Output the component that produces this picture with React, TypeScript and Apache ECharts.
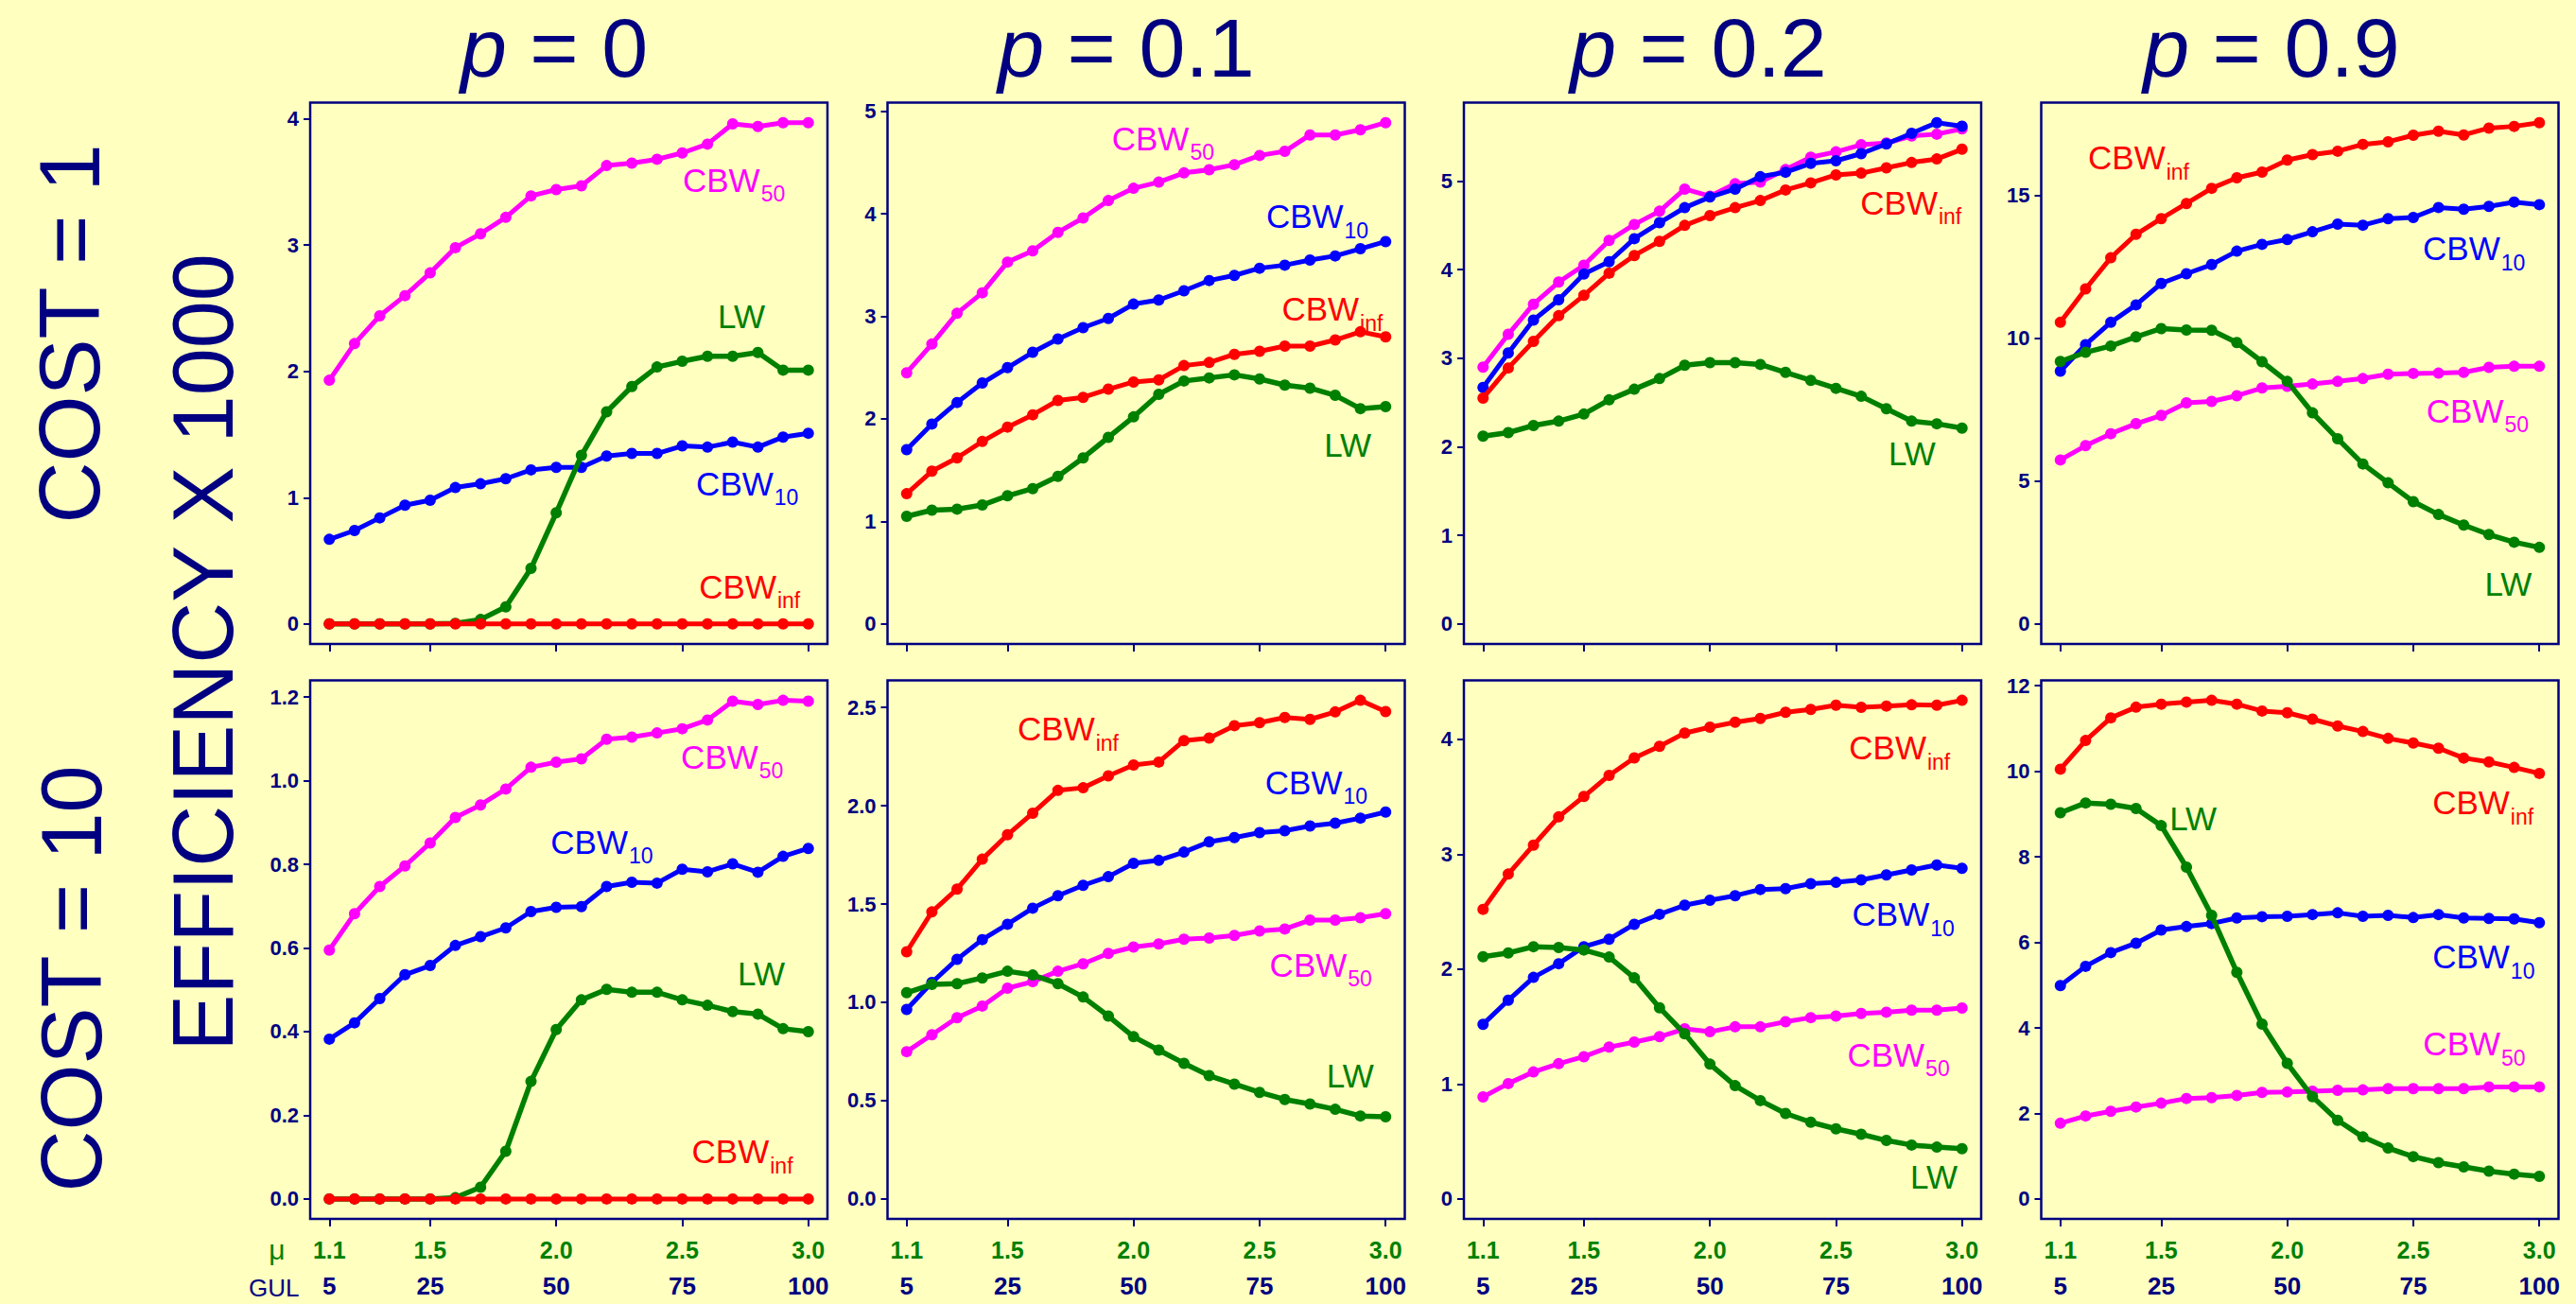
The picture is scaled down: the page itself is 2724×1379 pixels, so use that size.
import React, { useEffect, useRef } from "react";
import * as echarts from "echarts";

// ---- x axis: mean group size mu and the matching GUL ----
const MU = [1.1, 1.2, 1.3, 1.4, 1.5, 1.6, 1.7, 1.8, 1.9, 2.0, 2.1, 2.2, 2.3, 2.4, 2.5, 2.6, 2.7, 2.8, 2.9, 3.0];
const MU_TICKS = [1.1, 1.5, 2.0, 2.5, 3.0];
const MU_TICK_LABELS = ["1.1", "1.5", "2.0", "2.5", "3.0"];
const GUL_TICK_LABELS = ["5", "25", "50", "75", "100"];

const P_LABELS = ["0", "0.1", "0.2", "0.9"];
const COST_LABELS = ["COST = 1", "COST = 10"];
const Y_TITLE = "EFFICIENCY X 1000";

// ---- COST = 1 ----
// p = 0
const cbw50_A = [1.93, 2.22, 2.44, 2.6, 2.78, 2.98, 3.09, 3.22, 3.39, 3.44, 3.47, 3.63, 3.65, 3.68, 3.73, 3.8, 3.96, 3.94, 3.97, 3.97];
const cbw10_A = [0.67, 0.74, 0.84, 0.94, 0.98, 1.08, 1.11, 1.15, 1.22, 1.24, 1.24, 1.33, 1.35, 1.35, 1.41, 1.4, 1.44, 1.4, 1.48, 1.51];
const lw_A = [0, 0, 0, 0, 0, 0.005, 0.035, 0.135, 0.44, 0.88, 1.335, 1.68, 1.88, 2.035, 2.08, 2.12, 2.12, 2.15, 2.01, 2.01];
const cbwInf_A = [0, 0, 0, 0, 0, 0, 0, 0, 0, 0, 0, 0, 0, 0, 0, 0, 0, 0, 0, 0];
// p = 0.1
const cbw50_B = [2.45, 2.73, 3.03, 3.23, 3.53, 3.64, 3.82, 3.96, 4.13, 4.25, 4.31, 4.4, 4.43, 4.48, 4.57, 4.61, 4.77, 4.77, 4.82, 4.89];
const cbw10_B = [1.7, 1.95, 2.16, 2.35, 2.5, 2.65, 2.78, 2.89, 2.98, 3.12, 3.16, 3.25, 3.35, 3.4, 3.47, 3.5, 3.55, 3.59, 3.66, 3.73];
const lw_B = [1.05, 1.11, 1.12, 1.16, 1.25, 1.32, 1.44, 1.62, 1.82, 2.02, 2.24, 2.37, 2.4, 2.43, 2.39, 2.33, 2.3, 2.23, 2.1, 2.12];
const cbwInf_B = [1.27, 1.49, 1.62, 1.78, 1.92, 2.04, 2.18, 2.21, 2.29, 2.36, 2.38, 2.52, 2.55, 2.63, 2.66, 2.71, 2.71, 2.77, 2.85, 2.8];
// p = 0.2
const cbw50_C = [2.9, 3.27, 3.61, 3.86, 4.05, 4.33, 4.51, 4.66, 4.91, 4.83, 4.97, 4.99, 5.13, 5.27, 5.33, 5.41, 5.43, 5.51, 5.53, 5.59];
const cbw10_C = [2.67, 3.06, 3.43, 3.66, 3.95, 4.09, 4.35, 4.53, 4.7, 4.82, 4.91, 5.05, 5.1, 5.2, 5.23, 5.31, 5.42, 5.54, 5.66, 5.62];
const lw_C = [2.12, 2.16, 2.24, 2.29, 2.37, 2.53, 2.65, 2.77, 2.92, 2.95, 2.95, 2.93, 2.84, 2.75, 2.66, 2.57, 2.43, 2.29, 2.26, 2.21];
const cbwInf_C = [2.55, 2.89, 3.19, 3.48, 3.71, 3.96, 4.16, 4.32, 4.5, 4.61, 4.7, 4.78, 4.9, 4.98, 5.07, 5.09, 5.15, 5.21, 5.25, 5.36];
// p = 0.9
const cbw50_D = [5.74, 6.24, 6.66, 7.01, 7.3, 7.74, 7.79, 7.99, 8.26, 8.32, 8.4, 8.49, 8.59, 8.74, 8.77, 8.78, 8.81, 8.98, 9.02, 9.02];
const cbw10_D = [8.85, 9.78, 10.56, 11.17, 11.92, 12.26, 12.58, 13.05, 13.29, 13.46, 13.73, 14.0, 13.96, 14.19, 14.23, 14.58, 14.52, 14.62, 14.77, 14.68];
const lw_D = [9.19, 9.51, 9.73, 10.05, 10.34, 10.29, 10.28, 9.85, 9.18, 8.49, 7.39, 6.48, 5.6, 4.94, 4.28, 3.83, 3.46, 3.13, 2.86, 2.68];
const cbwInf_D = [10.56, 11.73, 12.82, 13.64, 14.19, 14.72, 15.25, 15.62, 15.82, 16.24, 16.43, 16.55, 16.79, 16.88, 17.11, 17.25, 17.12, 17.36, 17.42, 17.55];

// ---- COST = 10 ----
// p = 0
const cbw50_E = [0.595, 0.682, 0.747, 0.796, 0.851, 0.912, 0.942, 0.98, 1.032, 1.044, 1.052, 1.099, 1.104, 1.114, 1.124, 1.145, 1.19, 1.182, 1.192, 1.19];
const cbw10_E = [0.382, 0.421, 0.479, 0.536, 0.558, 0.606, 0.627, 0.648, 0.687, 0.697, 0.699, 0.747, 0.757, 0.755, 0.788, 0.782, 0.801, 0.781, 0.819, 0.838];
const lw_E = [0, 0, 0, 0, 0, 0.003, 0.028, 0.114, 0.281, 0.405, 0.476, 0.501, 0.494, 0.494, 0.476, 0.463, 0.448, 0.442, 0.407, 0.4];
const cbwInf_E = [0, 0, 0, 0, 0, 0, 0, 0, 0, 0, 0, 0, 0, 0, 0, 0, 0, 0, 0, 0];
// p = 0.1
const cbw50_F = [0.749, 0.835, 0.922, 0.981, 1.072, 1.105, 1.158, 1.196, 1.249, 1.281, 1.297, 1.321, 1.327, 1.34, 1.363, 1.373, 1.418, 1.418, 1.43, 1.451];
const cbw10_F = [0.964, 1.101, 1.219, 1.319, 1.397, 1.479, 1.542, 1.595, 1.639, 1.707, 1.722, 1.764, 1.816, 1.838, 1.863, 1.873, 1.897, 1.911, 1.937, 1.968];
const lw_F = [1.049, 1.091, 1.095, 1.124, 1.158, 1.139, 1.095, 1.027, 0.93, 0.825, 0.757, 0.69, 0.627, 0.584, 0.542, 0.506, 0.483, 0.456, 0.422, 0.418];
const cbwInf_F = [1.257, 1.46, 1.576, 1.728, 1.852, 1.962, 2.078, 2.091, 2.152, 2.207, 2.222, 2.331, 2.344, 2.407, 2.422, 2.449, 2.439, 2.477, 2.536, 2.479];
// p = 0.2
const cbw50_G = [0.888, 1.004, 1.105, 1.177, 1.238, 1.321, 1.365, 1.412, 1.48, 1.455, 1.498, 1.498, 1.542, 1.578, 1.592, 1.614, 1.625, 1.643, 1.643, 1.661];
const cbw10_G = [1.52, 1.729, 1.928, 2.047, 2.195, 2.26, 2.39, 2.477, 2.556, 2.599, 2.639, 2.693, 2.7, 2.744, 2.755, 2.776, 2.819, 2.863, 2.906, 2.877];
const lw_G = [2.108, 2.141, 2.195, 2.188, 2.166, 2.105, 1.924, 1.664, 1.437, 1.173, 0.986, 0.856, 0.744, 0.668, 0.61, 0.563, 0.509, 0.469, 0.451, 0.437];
const cbwInf_G = [2.52, 2.827, 3.079, 3.325, 3.502, 3.686, 3.838, 3.939, 4.054, 4.105, 4.148, 4.181, 4.235, 4.26, 4.296, 4.278, 4.289, 4.3, 4.296, 4.339];
// p = 0.9
const cbw50_H = [1.77, 1.94, 2.05, 2.15, 2.24, 2.35, 2.37, 2.42, 2.49, 2.5, 2.52, 2.54, 2.55, 2.58, 2.58, 2.58, 2.58, 2.62, 2.62, 2.62];
const cbw10_H = [4.99, 5.44, 5.76, 5.98, 6.29, 6.37, 6.44, 6.57, 6.6, 6.61, 6.65, 6.69, 6.61, 6.63, 6.58, 6.65, 6.57, 6.56, 6.55, 6.46];
const lw_H = [9.03, 9.26, 9.23, 9.13, 8.73, 7.76, 6.63, 5.3, 4.09, 3.17, 2.39, 1.84, 1.45, 1.19, 0.99, 0.85, 0.75, 0.65, 0.58, 0.53];
const cbwInf_H = [10.05, 10.72, 11.25, 11.5, 11.57, 11.62, 11.66, 11.57, 11.41, 11.37, 11.22, 11.06, 10.93, 10.77, 10.66, 10.54, 10.31, 10.22, 10.09, 9.95];

// ---- y tick values per panel ----
const Y_TICKS_A = [0, 1, 2, 3, 4];
const Y_TICKS_B = [0, 1, 2, 3, 4, 5];
const Y_TICKS_C = [0, 1, 2, 3, 4, 5];
const Y_TICKS_D = [0, 5, 10, 15];
const Y_TICKS_E = [0, 0.2, 0.4, 0.6, 0.8, 1.0, 1.2];
const Y_TICKS_F = [0, 0.5, 1.0, 1.5, 2.0, 2.5];
const Y_TICKS_G = [0, 1, 2, 3, 4];
const Y_TICKS_H = [0, 2, 4, 6, 8, 10, 12];

// ---- styling ----
const FONT = '"Liberation Sans", Arial, Helvetica, sans-serif';
const NAVY = "#000080";
const BG = "#FFFFC0";
const SERIES_STYLE: Record<string, { color: string; main: string; sub: string; width: number }> = {
  CBW50: { color: "#FF00FF", main: "CBW", sub: "50", width: 5 },
  CBW10: { color: "#0000FF", main: "CBW", sub: "10", width: 5 },
  LW: { color: "#008000", main: "LW", sub: "", width: 5.5 },
  CBWinf: { color: "#FF0000", main: "CBW", sub: "inf", width: 5 },
};
const DRAW_ORDER = ["CBW50", "CBW10", "LW", "CBWinf"];

// curve name tags: left edge (mu) and vertical centre (efficiency) in data units
type Tags = Record<string, [number, number]>;
const TAGS_A: Tags = { CBW50: [2.502, 3.517], LW: [2.641, 2.437], CBW10: [2.555, 1.111], CBWinf: [2.567, 0.296] };
const TAGS_B: Tags = { CBW50: [1.914, 4.737], CBW10: [2.526, 3.978], CBWinf: [2.588, 3.073], LW: [2.756, 1.746] };
const TAGS_C: Tags = { CBWinf: [2.597, 4.759], LW: [2.708, 1.927] };
const TAGS_D: Tags = { CBWinf: [1.21, 16.33], CBW10: [2.538, 13.15], CBW50: [2.552, 7.47], LW: [2.783, 1.41] };
const TAGS_E: Tags = { CBW50: [2.495, 1.057], CBW10: [1.978, 0.854], LW: [2.72, 0.54], CBWinf: [2.538, 0.113] };
const TAGS_F: Tags = { CBWinf: [1.54, 2.392], CBW10: [2.522, 2.12], CBW50: [2.54, 1.19], LW: [2.766, 0.629] };
const TAGS_G: Tags = { CBWinf: [2.552, 3.928], CBW10: [2.564, 2.477], CBW50: [2.545, 1.256], LW: [2.795, 0.191] };
const TAGS_H: Tags = { CBWinf: [2.576, 9.27], LW: [1.533, 8.9], CBW10: [2.576, 5.66], CBW50: [2.539, 3.63] };

type Panel = {
  data: Record<string, number[]>;
  yTicks: number[];
  decimals: number;
  tags: Tags;
};

const PANELS: Panel[] = [
  { data: { CBW50: cbw50_A, CBW10: cbw10_A, LW: lw_A, CBWinf: cbwInf_A }, yTicks: Y_TICKS_A, decimals: 0, tags: TAGS_A },
  { data: { CBW50: cbw50_B, CBW10: cbw10_B, LW: lw_B, CBWinf: cbwInf_B }, yTicks: Y_TICKS_B, decimals: 0, tags: TAGS_B },
  { data: { CBW50: cbw50_C, CBW10: cbw10_C, LW: lw_C, CBWinf: cbwInf_C }, yTicks: Y_TICKS_C, decimals: 0, tags: TAGS_C },
  { data: { CBW50: cbw50_D, CBW10: cbw10_D, LW: lw_D, CBWinf: cbwInf_D }, yTicks: Y_TICKS_D, decimals: 0, tags: TAGS_D },
  { data: { CBW50: cbw50_E, CBW10: cbw10_E, LW: lw_E, CBWinf: cbwInf_E }, yTicks: Y_TICKS_E, decimals: 1, tags: TAGS_E },
  { data: { CBW50: cbw50_F, CBW10: cbw10_F, LW: lw_F, CBWinf: cbwInf_F }, yTicks: Y_TICKS_F, decimals: 1, tags: TAGS_F },
  { data: { CBW50: cbw50_G, CBW10: cbw10_G, LW: lw_G, CBWinf: cbwInf_G }, yTicks: Y_TICKS_G, decimals: 0, tags: TAGS_G },
  { data: { CBW50: cbw50_H, CBW10: cbw10_H, LW: lw_H, CBWinf: cbwInf_H }, yTicks: Y_TICKS_H, decimals: 0, tags: TAGS_H },
];

// ---- layout (px) ----
const GRID_LEFT = [328, 938.5, 1548, 2158.5];
const GRID_WIDTH = 547;
const GRID_TOP = [108.5, 719.5];
const GRID_HEIGHT = [572.5, 569.5];
const TITLE_X = [586, 1191, 1796, 2402];
const TITLE_Y = 50;
const TITLE_SIZE = 88;

// axis limits padded by 4% of the data span, as in the usual plotting default
const X_PAD = (MU[MU.length - 1] - MU[0]) * 0.04;
const X_MIN = MU[0] - X_PAD;
const X_MAX = MU[MU.length - 1] + X_PAD;

function yLimits(p: Panel): [number, number] {
  let m = 0;
  Object.values(p.data).forEach((arr) => arr.forEach((v) => (m = Math.max(m, v))));
  return [-0.04 * m, 1.04 * m];
}

function buildOption() {
  const grid: any[] = [];
  const xAxis: any[] = [];
  const yAxis: any[] = [];
  const series: any[] = [];

  PANELS.forEach((p, i) => {
    const row = Math.floor(i / 4);
    const col = i % 4;
    grid.push({
      left: GRID_LEFT[col],
      top: GRID_TOP[row],
      width: GRID_WIDTH,
      height: GRID_HEIGHT[row],
      show: true,
      backgroundColor: "transparent",
      borderColor: NAVY,
      borderWidth: 2.5,
    });
    xAxis.push({
      gridIndex: i,
      type: "value",
      min: X_MIN,
      max: X_MAX,
      axisLine: { show: false, onZero: false },
      splitLine: { show: false },
      axisTick: { show: true, customValues: MU_TICKS, length: 8, lineStyle: { color: NAVY, width: 2 } },
      axisLabel:
        row === 1
          ? {
              show: true,
              customValues: MU_TICKS,
              margin: 14,
              formatter: (v: number) => {
                const k = MU_TICKS.findIndex((t) => Math.abs(t - v) < 1e-6);
                return `{mu|${MU_TICK_LABELS[k]}}\n{gul|${GUL_TICK_LABELS[k]}}`;
              },
              rich: {
                mu: { color: "#008000", fontWeight: "bold", fontSize: 25, fontFamily: FONT, lineHeight: 38 },
                gul: { color: NAVY, fontWeight: "bold", fontSize: 26, fontFamily: FONT, lineHeight: 38 },
              },
            }
          : { show: false },
    });
    const [ymin, ymax] = yLimits(p);
    yAxis.push({
      gridIndex: i,
      type: "value",
      min: ymin,
      max: ymax,
      axisLine: { show: false, onZero: false },
      splitLine: { show: false },
      axisTick: { show: true, customValues: p.yTicks, length: 7, lineStyle: { color: NAVY, width: 2 } },
      axisLabel: {
        show: true,
        customValues: p.yTicks,
        margin: 12,
        color: NAVY,
        fontWeight: "bold",
        fontSize: 22,
        fontFamily: FONT,
        formatter: (v: number) => v.toFixed(p.decimals),
      },
    });
    DRAW_ORDER.forEach((key, z) => {
      const st = SERIES_STYLE[key];
      series.push({
        type: "line",
        name: key,
        xAxisIndex: i,
        yAxisIndex: i,
        data: MU.map((m, j) => [m, p.data[key][j]]),
        symbol: "circle",
        symbolSize: 12,
        showSymbol: true,
        lineStyle: { color: st.color, width: st.width },
        itemStyle: { color: st.color, borderWidth: 0 },
        silent: true,
        z: 2 + z,
      });
    });
  });

  return {
    animation: false,
    backgroundColor: BG,
    grid,
    xAxis,
    yAxis,
    series,
  };
}

function staticGraphics() {
  const els: any[] = [];
  P_LABELS.forEach((p, c) => {
    els.push({
      type: "text",
      x: TITLE_X[c],
      y: TITLE_Y,
      style: {
        text: `{i|p}{r| = ${p}}`,
        align: "center",
        verticalAlign: "middle",
        rich: {
          i: { fontStyle: "italic", fontSize: TITLE_SIZE, fontFamily: FONT, fill: NAVY },
          r: { fontSize: TITLE_SIZE, fontFamily: FONT, fill: NAVY },
        },
      },
    });
  });
  const rowCenters = [353, 1035];
  const rowX = [74, 76];
  COST_LABELS.forEach((t, r) => {
    els.push({
      type: "text",
      x: rowX[r],
      y: rowCenters[r],
      rotation: Math.PI / 2,
      style: { text: t, align: "center", verticalAlign: "middle", fontSize: 90, fontFamily: FONT, fill: NAVY },
    });
  });
  els.push({
    type: "text",
    x: 215,
    y: 690,
    rotation: Math.PI / 2,
    style: { text: Y_TITLE, align: "center", verticalAlign: "middle", fontSize: 90, fontFamily: FONT, fill: NAVY },
  });
  els.push({
    type: "text",
    x: 293,
    y: 1321,
    style: { text: "μ", align: "center", verticalAlign: "middle", fontSize: 30, fontFamily: FONT, fill: "#008000" },
  });
  els.push({
    type: "text",
    x: 263,
    y: 1362,
    style: { text: "GUL", align: "left", verticalAlign: "middle", fontSize: 26, fontFamily: FONT, fill: NAVY },
  });
  return els;
}

function tagGraphics(chart: echarts.ECharts) {
  const els: any[] = [];
  PANELS.forEach((p, i) => {
    Object.entries(p.tags).forEach(([key, pos]) => {
      const st = SERIES_STYLE[key];
      const px = chart.convertToPixel({ gridIndex: i } as any, pos) as number[];
      const text = st.sub ? `{m|${st.main}}{s|${st.sub}}` : `{m|${st.main}}`;
      els.push({
        type: "text",
        x: px[0],
        y: px[1] - 17.5,
        z: 50,
        style: {
          text,
          align: "left",
          verticalAlign: "top",
          rich: {
            m: { fontSize: 35, lineHeight: 35, fontFamily: FONT, fill: st.color, verticalAlign: "top" },
            s: {
              fontSize: 23,
              lineHeight: 23,
              fontFamily: FONT,
              fill: st.color,
              verticalAlign: "top",
              padding: [21, 0, 0, 1],
            },
          },
        },
      });
    });
  });
  return els;
}

export default function App() {
  const ref = useRef<HTMLDivElement>(null);
  useEffect(() => {
    if (!ref.current) return;
    const chart = echarts.init(ref.current, null, { renderer: "svg" });
    chart.setOption(buildOption());
    chart.setOption({ graphic: { elements: [...staticGraphics(), ...tagGraphics(chart)] } });
    return () => chart.dispose();
  }, []);
  return <div ref={ref} style={{ position: "fixed", left: 0, top: 0, width: 2724, height: 1379 }} />;
}
